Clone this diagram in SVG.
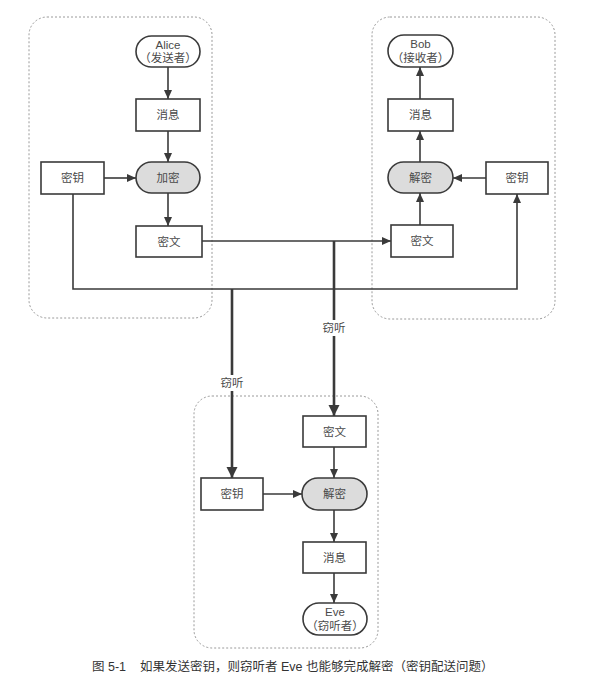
<svg xmlns="http://www.w3.org/2000/svg" width="604" height="679" viewBox="0 0 604 679">
<style>
.bg{fill:#ffffff}
.grp{fill:none;stroke:#9a9a9a;stroke-width:1;stroke-dasharray:2,2}
.box{fill:#ffffff;stroke:#3a3a3a;stroke-width:1.6}
.op{fill:#dcdcdc;stroke:#3a3a3a;stroke-width:1.6}
.t{font-family:"Liberation Sans","Noto Sans CJK SC",sans-serif;font-size:11.5px;fill:#4a4a4a;text-anchor:middle;dominant-baseline:central}
.ln{fill:none;stroke:#3a3a3a;stroke-width:1.6}
.thick{fill:none;stroke:#3a3a3a;stroke-width:2.6}
.cap{font-family:"Liberation Sans","Noto Sans CJK SC",sans-serif;font-size:12.5px;fill:#333;dominant-baseline:central}
</style>
<defs>
<marker id="a" markerUnits="userSpaceOnUse" markerWidth="10" markerHeight="10" refX="9" refY="5" orient="auto">
<path d="M0,1 L9,5 L0,9 Z" fill="#3a3a3a"/>
</marker>
<marker id="ab" markerUnits="userSpaceOnUse" markerWidth="12" markerHeight="12" refX="11" refY="6" orient="auto">
<path d="M0,0.5 L11,6 L0,11.5 Z" fill="#3a3a3a"/>
</marker>
</defs>
<rect class="bg" x="0" y="0" width="604" height="679"/>
<g id="groups">
<rect class="grp" x="29" y="17" width="183" height="301" rx="18"/>
<rect class="grp" x="372" y="17" width="183" height="302" rx="18"/>
<rect class="grp" x="194" y="396" width="184" height="252" rx="18"/>
</g>
<g id="connectors">
<line class="ln" x1="168" y1="67" x2="168" y2="99" marker-end="url(#a)"/>
<line class="ln" x1="168" y1="131" x2="168" y2="162" marker-end="url(#a)"/>
<line class="ln" x1="104" y1="178" x2="136" y2="178" marker-end="url(#a)"/>
<line class="ln" x1="168" y1="193" x2="168" y2="226" marker-end="url(#a)"/>
<line class="ln" x1="202" y1="241" x2="391" y2="241" marker-end="url(#a)"/>
<polyline class="ln" points="73,194 73,289 517,289 517,194" marker-end="url(#a)"/>
<line class="ln" x1="420" y1="225" x2="420" y2="193" marker-end="url(#a)"/>
<line class="ln" x1="420" y1="162" x2="420" y2="131" marker-end="url(#a)"/>
<line class="ln" x1="420" y1="99" x2="420" y2="67" marker-end="url(#a)"/>
<line class="ln" x1="486" y1="178" x2="453" y2="178" marker-end="url(#a)"/>
<line class="thick" x1="232" y1="289" x2="232" y2="478" marker-end="url(#ab)"/>
<line class="thick" x1="334" y1="241" x2="334" y2="416" marker-end="url(#ab)"/>
<line class="ln" x1="334" y1="447" x2="334" y2="478" marker-end="url(#a)"/>
<line class="ln" x1="263" y1="494" x2="302" y2="494" marker-end="url(#a)"/>
<line class="ln" x1="334" y1="510" x2="334" y2="542" marker-end="url(#a)"/>
<line class="ln" x1="334" y1="573" x2="334" y2="603" marker-end="url(#a)"/>
<rect x="219" y="375" width="26" height="16" fill="#ffffff"/>
<text class="t" x="232" y="383">窃听</text>
<rect x="321" y="320" width="26" height="16" fill="#ffffff"/>
<text class="t" x="334" y="328">窃听</text>
</g>
<g id="alice">
<rect class="box" x="136" y="36" width="64" height="31" rx="15.5"/>
<text class="t" x="168" y="45">Alice</text>
<text class="t" x="168" y="58">（发送者）</text>
</g>
<g id="alice-msg">
<rect class="box" x="136" y="99" width="64" height="32"/>
<text class="t" x="168" y="115">消息</text>
</g>
<g id="alice-key">
<rect class="box" x="41" y="162" width="63" height="32"/>
<text class="t" x="72.5" y="178">密钥</text>
</g>
<g id="encrypt">
<rect class="op" x="136" y="162" width="64" height="31" rx="15.5"/>
<text class="t" x="168" y="177.5">加密</text>
</g>
<g id="alice-cipher">
<rect class="box" x="136" y="226" width="66" height="31"/>
<text class="t" x="169" y="241.5">密文</text>
</g>
<g id="bob">
<rect class="box" x="388" y="35" width="65" height="32" rx="16"/>
<text class="t" x="420.5" y="44">Bob</text>
<text class="t" x="420.5" y="58">（接收者）</text>
</g>
<g id="bob-msg">
<rect class="box" x="388" y="99" width="65" height="32"/>
<text class="t" x="420.5" y="115">消息</text>
</g>
<g id="bob-decrypt">
<rect class="op" x="388" y="162" width="65" height="31" rx="15.5"/>
<text class="t" x="420.5" y="177.5">解密</text>
</g>
<g id="bob-key">
<rect class="box" x="486" y="162" width="62" height="32"/>
<text class="t" x="517" y="178">密钥</text>
</g>
<g id="bob-cipher">
<rect class="box" x="391" y="225" width="62" height="32"/>
<text class="t" x="422" y="241">密文</text>
</g>
<g id="eve-cipher">
<rect class="box" x="303" y="416" width="63" height="31"/>
<text class="t" x="334.5" y="431.5">密文</text>
</g>
<g id="eve-key">
<rect class="box" x="201" y="478" width="62" height="32"/>
<text class="t" x="232" y="494">密钥</text>
</g>
<g id="eve-decrypt">
<rect class="op" x="302" y="478" width="65" height="32" rx="16"/>
<text class="t" x="334.5" y="494">解密</text>
</g>
<g id="eve-msg">
<rect class="box" x="303" y="542" width="63" height="31"/>
<text class="t" x="334.5" y="557.5">消息</text>
</g>
<g id="eve">
<rect class="box" x="303" y="603" width="64" height="32" rx="16"/>
<text class="t" x="335" y="612">Eve</text>
<text class="t" x="335" y="626">（窃听者）</text>
</g>
<g id="caption">
<text class="cap" x="92" y="667">图 5-1</text>
<text class="cap" x="140" y="667">如果发送密钥，则窃听者 Eve 也能够完成解密（密钥配送问题）</text>
</g>
</svg>
